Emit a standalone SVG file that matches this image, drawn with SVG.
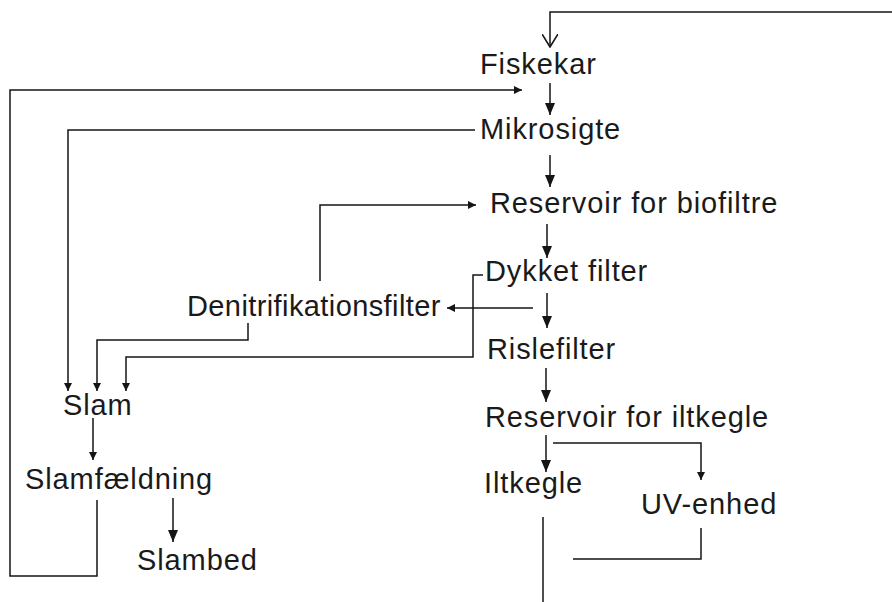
<svg xmlns="http://www.w3.org/2000/svg" width="892" height="602" viewBox="0 0 892 602">
<style>
text{font-family:"Liberation Sans",Arial,sans-serif;font-size:29px;letter-spacing:0.9px;fill:#1a1a1a;}
.c{stroke:#151515;stroke-width:1.5;fill:none;}
.big{marker-end:url(#ah);}
.sm{marker-end:url(#as);}
.op{marker-end:url(#ao);}
</style>
<defs>
<marker id="ah" viewBox="0 0 12 10" refX="12" refY="5" markerWidth="12" markerHeight="10" markerUnits="userSpaceOnUse" orient="auto"><path d="M0,0 L12,5 L0,10 Z" fill="#151515"/></marker>
<marker id="as" viewBox="0 0 8 8" refX="8" refY="4" markerWidth="8" markerHeight="8" markerUnits="userSpaceOnUse" orient="auto"><path d="M0,0 L8,4 L0,8 Z" fill="#151515"/></marker>
<marker id="ao" viewBox="0 0 14 16" refX="13" refY="8" markerWidth="14" markerHeight="16" markerUnits="userSpaceOnUse" orient="auto"><path d="M0,0 L13,8 L0,16" fill="none" stroke="#151515" stroke-width="1.6"/></marker>
</defs>
<g id="connectors">
<path class="c op" d="M892,12 H550 V47"/>
<path class="c sm" d="M97,500 V576 H10 V90 H522"/>
<path class="c big" d="M550,83 V115"/>
<path class="c big" d="M550,155 V187"/>
<path class="c big" d="M547,224 V258"/>
<path class="c big" d="M547,293 V328"/>
<path class="c big" d="M546,368 V402"/>
<path class="c big" d="M546,435 V472"/>
<path class="c sm" d="M553,443 H701 V480"/>
<path class="c" d="M701,528 V559 H573"/>
<path class="c" d="M543,517 V602"/>
<path class="c sm" d="M475,130 H68 V391"/>
<path class="c sm" d="M320,281 V205 H476"/>
<path class="c sm" d="M533,308 H447"/>
<path class="c sm" d="M248,323 V340 H97 V391"/>
<path class="c sm" d="M483,275 H473 V357 H126 V391"/>
<path class="c sm" d="M93,418 V460"/>
<path class="c big" d="M173,498 V542"/>
</g>
<g id="fiskekar"><text x="480" y="74">Fiskekar</text></g>
<g id="mikrosigte"><text x="480" y="139">Mikrosigte</text></g>
<g id="reservoir-biofiltre"><text x="490" y="213">Reservoir for biofiltre</text></g>
<g id="dykket-filter"><text x="485" y="281">Dykket filter</text></g>
<g id="denitrifikationsfilter"><text x="187" y="316" style="letter-spacing:0.4px">Denitrifikationsfilter</text></g>
<g id="rislefilter"><text x="487" y="359">Rislefilter</text></g>
<g id="slam"><text x="63" y="415">Slam</text></g>
<g id="slamfaeldning"><text x="25" y="489">Slamfældning</text></g>
<g id="slambed"><text x="137" y="570">Slambed</text></g>
<g id="reservoir-iltkegle"><text x="485" y="427">Reservoir for iltkegle</text></g>
<g id="iltkegle"><text x="484" y="493">Iltkegle</text></g>
<g id="uv-enhed"><text x="641" y="514">UV-enhed</text></g>
</svg>
